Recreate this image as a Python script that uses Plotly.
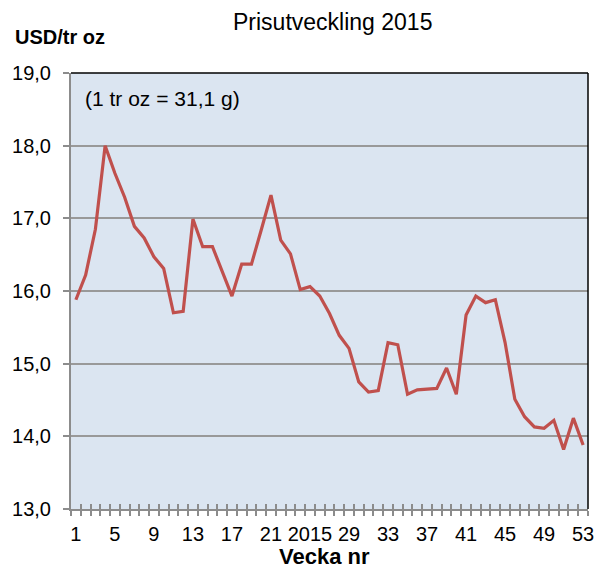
import plotly.graph_objects as go

weeks = list(range(1, 54))
prices = [15.88, 16.22, 16.85, 18.00, 17.62, 17.29, 16.89, 16.73, 16.47, 16.31,
          15.70, 15.72, 16.99, 16.61, 16.61, 16.27, 15.93, 16.37, 16.37, 16.84,
          17.32, 16.70, 16.51, 16.02, 16.06, 15.93, 15.69, 15.39, 15.21, 14.75,
          14.61, 14.63, 15.29, 15.26, 14.58, 14.64, 14.65, 14.66, 14.94, 14.58,
          15.67, 15.93, 15.84, 15.88, 15.29, 14.51, 14.27, 14.13, 14.11, 14.22,
          13.82, 14.25, 13.88]
x_tick_vals = [1, 5, 9, 13, 17, 21, 25, 29, 33, 37, 41, 45, 49, 53]
x_tick_text = ["1", "5", "9", "13", "17", "21", "2015", "29", "33", "37", "41", "45", "49", "53"]
y_tick_vals = [13, 14, 15, 16, 17, 18, 19]
y_tick_text = ["13,0", "14,0", "15,0", "16,0", "17,0", "18,0", "19,0"]
boundaries = [w - 0.5 for w in weeks] + [weeks[-1] + 0.5]

FONT = "Liberation Sans, Arial, sans-serif"
AXIS_GRAY = "#8c8c8c"

fig = go.Figure()
fig.add_trace(go.Scatter(x=weeks, y=prices, mode="lines",
                         line=dict(color="#C0504D", width=3.2),
                         showlegend=False, hoverinfo="x+y"))
# helper trace to carry the overlay axis (inside half of crossing tick marks)
fig.add_trace(go.Scatter(x=weeks, y=prices, xaxis="x2", mode="lines",
                         line=dict(color="rgba(0,0,0,0)", width=0),
                         showlegend=False, hoverinfo="skip"))

fig.update_layout(
    width=601, height=575,
    margin=dict(l=71, r=7, t=73, b=66),
    paper_bgcolor="white",
    plot_bgcolor="#DBE5F1",
    font=dict(family=FONT, color="black", size=20),
    xaxis=dict(
        range=[0.5, 53.5], tickmode="array", tickvals=x_tick_vals, ticktext=x_tick_text,
        ticks="", showgrid=False, zeroline=False,
        showline=True, linecolor=AXIS_GRAY, linewidth=2,
        tickfont=dict(size=20, family=FONT), ticklabelstandoff=6,
        minor=dict(tickmode="array", tickvals=boundaries, ticks="outside",
                   ticklen=5, tickwidth=1.5, tickcolor=AXIS_GRAY, showgrid=False),
    ),
    xaxis2=dict(
        range=[0.5, 53.5], overlaying="x", anchor="y", side="bottom",
        tickmode="array", tickvals=boundaries, ticks="inside", ticklen=5,
        tickwidth=1.5, tickcolor=AXIS_GRAY, showticklabels=False,
        showgrid=False, zeroline=False, showline=False,
    ),
    yaxis=dict(
        range=[13, 19], tickmode="array", tickvals=y_tick_vals, ticktext=y_tick_text,
        ticks="outside", ticklen=6, tickwidth=1.5, tickcolor=AXIS_GRAY,
        showgrid=True, gridcolor="#999999", gridwidth=2, zeroline=False,
        showline=True, linecolor=AXIS_GRAY, linewidth=2,
        tickfont=dict(size=20, family=FONT), ticklabelstandoff=8,
    ),
    shapes=[
        dict(type="line", xref="paper", yref="paper", x0=0, x1=1, y0=1, y1=1,
             line=dict(color="black", width=1.5)),
        dict(type="line", xref="paper", yref="paper", x0=1, x1=1, y0=0, y1=1,
             line=dict(color="black", width=1.5)),
    ],
    annotations=[
        dict(text="Prisutveckling 2015", xref="paper", yref="paper",
             x=(335.5 - 71) / 523, y=(509 - 22) / 436, xanchor="center", yanchor="middle",
             showarrow=False, font=dict(size=23, family=FONT)),
        dict(text="<b>USD/tr oz</b>", xref="paper", yref="paper",
             x=(12 - 71) / 523, y=(509 - 37) / 436, xanchor="left", yanchor="middle",
             showarrow=False, font=dict(size=20, family=FONT)),
        dict(text="(1 tr oz = 31,1 g)", xref="paper", yref="paper",
             x=(82.7 - 71) / 523, y=(509 - 99) / 436, xanchor="left", yanchor="middle",
             showarrow=False, font=dict(size=21, family=FONT)),
        dict(text="<b>Vecka nr</b>", xref="paper", yref="paper",
             x=(327.5 - 71) / 523, y=(509 - 556) / 436, xanchor="center", yanchor="middle",
             showarrow=False, font=dict(size=22, family=FONT)),
    ],
)

fig.write_html("out.html", config={"displayModeBar": False},
               post_script="document.body.style.margin='0';document.body.style.overflow='hidden';")
